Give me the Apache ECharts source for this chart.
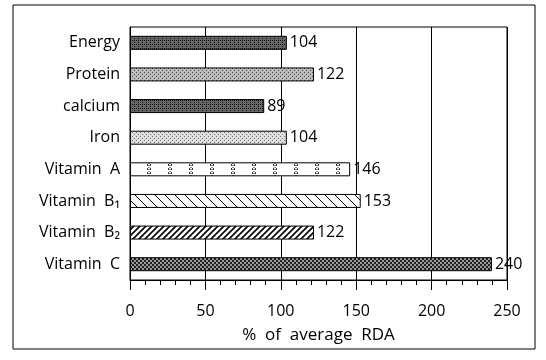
<!DOCTYPE html>
<html><head><meta charset="utf-8">
<script src="https://cdn.jsdelivr.net/npm/echarts@6/dist/echarts.min.js"></script>
<style>html,body{margin:0;padding:0;background:#fff}#c{width:546px;height:360px}</style>
</head><body><div id="c"></div>
<script>
const categories = ['Energy','Protein','calcium','Iron','Vitamin  A','Vitamin  B\u2081','Vitamin  B\u2082','Vitamin  C'];
const values = [104,122,89,104,146,153,122,240];
const xTicks = [0,50,100,150,200,250];

function pat(w,h,draw){const c=document.createElement('canvas');c.width=w;c.height=h;const g=c.getContext('2d');g.fillStyle='#fff';g.fillRect(0,0,w,h);draw(g);return {image:c,repeat:'repeat'};}
function dots(bg,fg,step){return pat(4,4,g=>{g.fillStyle=bg;g.fillRect(0,0,4,4);g.fillStyle=fg;g.fillRect(0,0,1,1);g.fillRect(2,2,1,1);if(step){g.fillRect(2,0,1,1);}});}
const patterns = [
  dots('#666','#111',true),
  dots('#bbb','#555',false),
  dots('#666','#111',true),
  dots('#ddd','#777',false),
  pat(21,4,g=>{g.fillStyle='#333';g.fillRect(0,0,1,2);g.fillRect(3,0,1,2);g.fillStyle='#888';g.fillRect(1,1,2,1);g.fillRect(1,3,2,1);}),
  pat(10,10,g=>{g.strokeStyle='#000';g.lineWidth=1;g.beginPath();g.moveTo(0,0);g.lineTo(10,10);g.moveTo(-5,5);g.lineTo(5,15);g.moveTo(5,-5);g.lineTo(15,5);g.stroke();}),
  pat(6,6,g=>{g.strokeStyle='#000';g.lineWidth=1.6;g.beginPath();g.moveTo(0,6);g.lineTo(6,0);g.moveTo(-3,3);g.lineTo(3,-3);g.moveTo(3,9);g.lineTo(9,3);g.stroke();}),
  pat(4,4,g=>{g.fillStyle='#222';g.fillRect(0,0,2,2);g.fillRect(2,2,2,2);g.fillStyle='#999';g.fillRect(2,0,2,2);g.fillRect(0,2,2,2);})
];

const font = '"Open Sans", "DejaVu Sans", sans-serif';
const chart = echarts.init(document.getElementById('c'), null, {renderer:'canvas'});
chart.setOption({
  animation:false,
  graphic:[{type:'rect',shape:{x:13,y:5,width:522,height:344},style:{fill:'none',stroke:'#000',lineWidth:1},silent:true}],
  grid:{left:130,right:39,top:27,bottom:80,show:true,borderColor:'#000',borderWidth:1,containLabel:false},
  xAxis:{type:'value',min:0,max:250,interval:50,
    axisLine:{show:true,lineStyle:{color:'#000',width:1}},
    axisTick:{show:true,length:10,lineStyle:{color:'#000'}},
    minorTick:{show:true,splitNumber:5,length:5,lineStyle:{color:'#000'}},
    splitLine:{show:true,lineStyle:{color:'#000',width:1}},
    axisLabel:{margin:23,fontSize:16,color:'#000',fontFamily:font,formatter:v=>xTicks.includes(v)?String(v):''},
    name:'%  of  average  RDA',nameLocation:'middle',nameGap:47,
    nameTextStyle:{fontSize:17,color:'#000',fontFamily:font}
  },
  yAxis:{type:'category',data:categories,inverse:true,
    axisLine:{show:true,lineStyle:{color:'#000'}},axisTick:{show:false},
    axisLabel:{margin:10,fontSize:16,color:'#000',fontFamily:font}
  },
  series:[{type:'bar',barWidth:14,
    data:values.map((v,i)=>({value:v,itemStyle:{color:patterns[i],borderColor:'#000',borderWidth:1}})),
    label:{show:true,position:'right',distance:3,fontSize:16,color:'#000',fontFamily:font}
  }]
});
</script></body></html>
